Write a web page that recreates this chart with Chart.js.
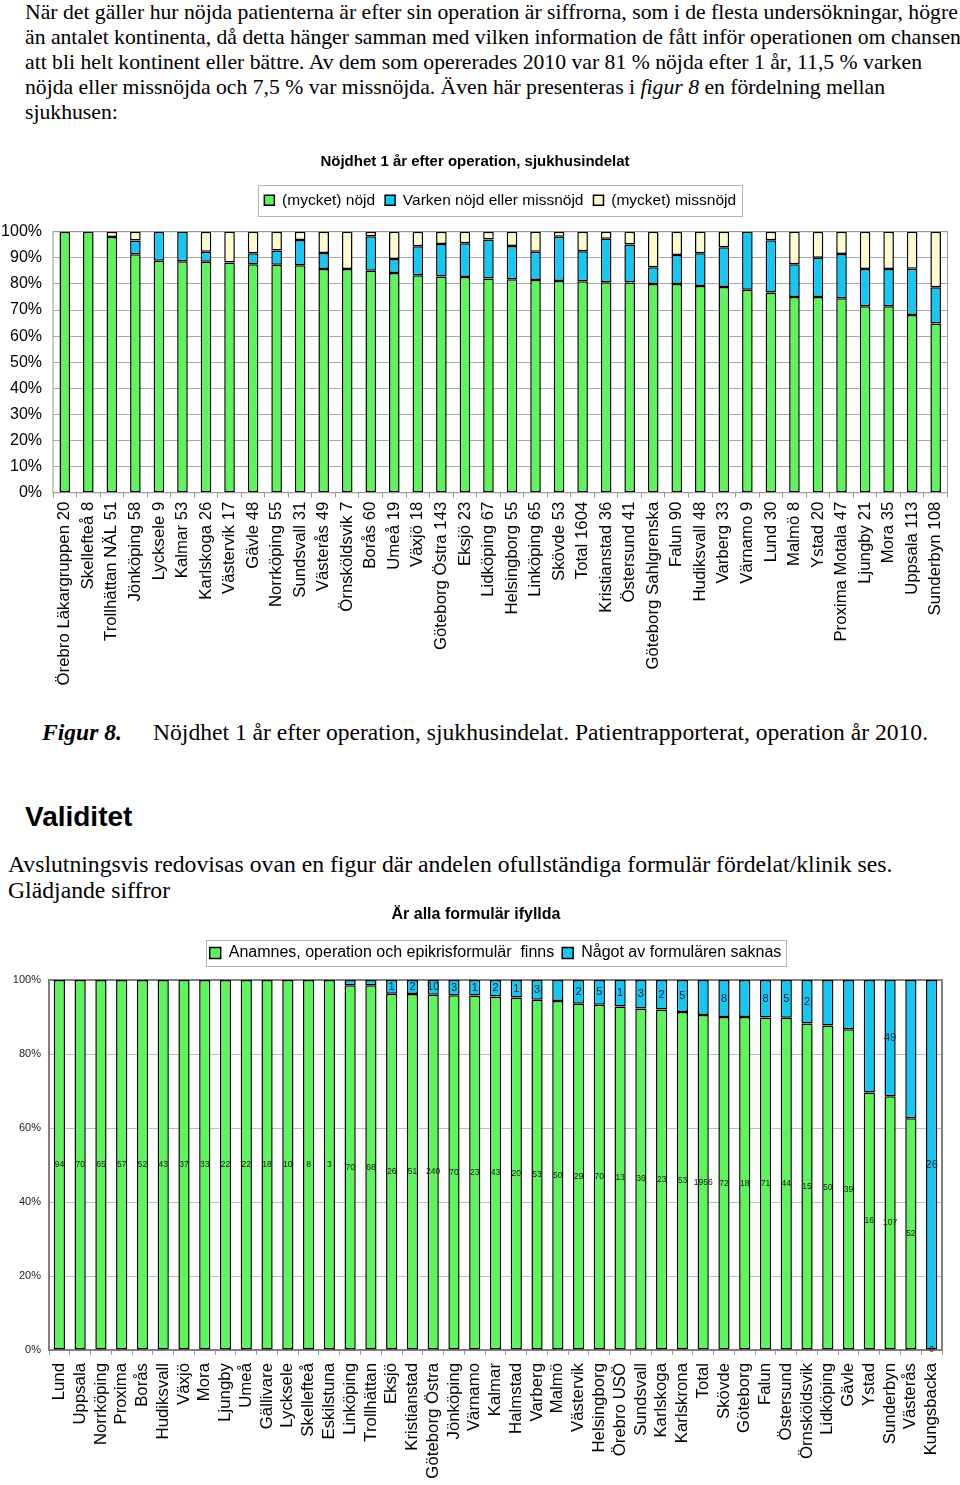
<!DOCTYPE html>
<html lang="sv">
<head>
<meta charset="utf-8">
<title>Nöjdhet 1 år efter operation / Validitet</title>
<script src="https://cdn.jsdelivr.net/npm/chart.js@4.4.1/dist/chart.umd.min.js"></script>
<style>
  html, body { margin: 0; padding: 0; background: #fff; }
  body { width: 960px; height: 1485px; position: relative; overflow: hidden; color: #000; }
  .serif { font-family: 'Liberation Serif', 'Times New Roman', serif; }
  .txt { position: absolute; white-space: nowrap; }
  #intro { left: 25px; top: 0; font-size: 21.7px; line-height: 25px; }
  #fig-no { left: 42px; top: 720px; font-size: 23.6px; line-height: 25px; font-weight: bold; font-style: italic; }
  #fig-text { left: 153px; top: 720px; font-size: 23.6px; line-height: 25px; }
  #validitet { left: 25px; top: 801px; font: bold 28px/32px 'Liberation Sans', Arial, sans-serif; }
  #outro { left: 8px; top: 851px; font-size: 23.7px; line-height: 26px; }
  .chart-box { position: absolute; left: 0; width: 960px; }
  #box-nojd { top: 140px; height: 560px; }
  #box-form { top: 895px; height: 590px; }
</style>
</head>
<body>
<div id="intro" class="txt serif">När det gäller hur nöjda patienterna är efter sin operation är siffrorna, som i de flesta undersökningar, högre<br>än antalet kontinenta, då detta hänger samman med vilken information de fått inför operationen om chansen<br>att bli helt kontinent eller bättre. Av dem som opererades 2010 var 81 % nöjda efter 1 år, 11,5 % varken<br>nöjda eller missnöjda och 7,5 % var missnöjda. Även här presenteras i <i>figur 8</i> en fördelning mellan<br>sjukhusen:</div>

<div class="chart-box" id="box-nojd"><canvas id="nojd"></canvas></div>

<div id="fig-no" class="txt serif">Figur 8.</div>
<div id="fig-text" class="txt serif">Nöjdhet 1 år efter operation, sjukhusindelat. Patientrapporterat, operation år 2010.</div>
<div id="validitet" class="txt">Validitet</div>
<div id="outro" class="txt serif">Avslutningsvis redovisas ovan en figur där andelen ofullständiga formulär fördelat/klinik ses.<br>Glädjande siffror</div>

<div class="chart-box" id="box-form"><canvas id="form"></canvas></div>

<script>
// --- Figur 8: nöjdhet 1 år efter operation (andel i %) ---
const hospitals = ['Örebro Läkargruppen 20', 'Skellefteå 8', 'Trollhättan NÄL 51', 'Jönköping 58', 'Lycksele 9',
  'Kalmar 53', 'Karlskoga 26', 'Västervik 17', 'Gävle 48', 'Norrköping 55', 'Sundsvall 31', 'Västerås 49',
  'Örnsköldsvik 7', 'Borås 60', 'Umeå 19', 'Växjö 18', 'Göteborg Östra 143', 'Eksjö 23', 'Lidköping 67',
  'Helsingborg 55', 'Linköping 65', 'Skövde 53', 'Total 1604', 'Kristianstad 36', 'Östersund 41',
  'Göteborg Sahlgrenska', 'Falun 90', 'Hudiksvall 48', 'Varberg 33', 'Värnamo 9', 'Lund 30', 'Malmö 8',
  'Ystad 20', 'Proxima Motala 47', 'Ljungby 21', 'Mora 35', 'Uppsala 113', 'Sunderbyn 108'];
const satisfied = [100, 100, 98.0, 91.4, 88.9, 88.7, 88.5, 88.2, 87.5, 87.3, 87.1, 85.7, 85.7, 85.0, 84.2, 83.3,
  82.8, 82.6, 82.1, 81.8, 81.5, 81.1, 81.0, 80.6, 80.5, 80.0, 80.0, 79.2, 78.8, 77.8, 76.7, 75.0, 75.0, 74.5,
  71.4, 71.4, 68.1, 64.8];
const neutral = [0, 0, 0, 5.2, 11.1, 11.3, 3.8, 0, 4.2, 5.5, 9.7, 6.1, 0, 13.3, 5.3, 11.1, 12.5, 13.0, 14.9, 12.7,
  10.8, 17.0, 11.5, 16.7, 14.6, 6.4, 11.1, 12.5, 15.2, 22.2, 20.0, 12.5, 15.0, 17.0, 14.3, 14.3, 17.7, 13.9];
const dissatisfied = [0, 0, 2.0, 3.4, 0, 0, 7.7, 11.8, 8.3, 7.2, 3.2, 8.2, 14.3, 1.7, 10.5, 5.6, 4.7, 4.4, 3.0, 5.5,
  7.7, 1.9, 7.5, 2.7, 4.9, 13.6, 8.9, 8.3, 6.0, 0, 3.3, 12.5, 10.0, 8.5, 14.3, 14.3, 14.2, 21.3];
const pctTicks = ['0%', '10%', '20%', '30%', '40%', '50%', '60%', '70%', '80%', '90%', '100%'];

// --- Är alla formulär ifyllda (antal formulär) ---
const clinics = ['Lund', 'Uppsala', 'Norrköping', 'Proxima', 'Borås', 'Hudiksvall', 'Växjö', 'Mora', 'Ljungby',
  'Umeå', 'Gällivare', 'Lycksele', 'Skellefteå', 'Eskilstuna', 'Linköping', 'Trollhättan', 'Eksjö',
  'Kristianstad', 'Göteborg Östra', 'Jönköping', 'Värnamo', 'Kalmar', 'Halmstad', 'Varberg', 'Malmö',
  'Västervik', 'Helsingborg', 'Örebro USÖ', 'Sundsvall', 'Karlskoga', 'Karlskrona', 'Total', 'Skövde',
  'Göteborg', 'Falun', 'Östersund', 'Örnsköldsvik', 'Lidköping', 'Gävle', 'Ystad', 'Sunderbyn', 'Västerås',
  'Kungsbacka'];
const formsComplete = [94, 70, 65, 57, 52, 43, 37, 33, 22, 22, 18, 10, 8, 3, 70, 68, 26, 51, 240, 70, 23, 43, 20,
  53, 50, 29, 70, 13, 36, 23, 53, 1956, 72, 18, 71, 44, 15, 50, 39, 16, 107, 52, 0];
const formsMissing = [0, 0, 0, 0, 0, 0, 0, 0, 0, 0, 0, 0, 0, 0, 1, 1, 1, 2, 10, 3, 1, 2, 1, 3, 3, 2, 5, 1, 3, 2, 5,
  205, 8, 2, 8, 5, 2, 7, 6, 7, 49, 31, 26];
// labels for the "saknas" segment that are not printed in the original
const unlabelledMissing = ['Linköping', 'Trollhättan', 'Malmö', 'Total', 'Göteborg', 'Lidköping', 'Gävle', 'Ystad', 'Västerås'];
const formTicks = ['0%', '20%', '40%', '60%', '80%', '100%'];

const SANS = "'Liberation Sans', Arial, sans-serif";
const NARROW = "'Liberation Sans Narrow', 'Liberation Sans', Arial, sans-serif";
const GREEN = '#5cf55c';
const BLUE = '#14c8f4';
const PALE = '#fffbcf';

Chart.defaults.font.family = SANS;
Chart.defaults.color = '#000';
Chart.defaults.animation = false;

// gray frame around the plot area, like the Excel plot area border
const plotFrame = {
  id: 'plotFrame',
  beforeDatasetsDraw(chart, args, opts) {
    const { ctx, chartArea: a } = chart;
    ctx.save();
    ctx.strokeStyle = opts.color;
    ctx.lineWidth = opts.width;
    ctx.strokeRect(a.left, a.top, a.right - a.left, a.bottom - a.top);
    ctx.restore();
  }
};

// thin border round the legend items
const legendFrame = {
  id: 'legendFrame',
  afterDraw(chart, args, opts) {
    const boxes = chart.legend && chart.legend.legendHitBoxes;
    if (!boxes || !boxes.length) return;
    const left = Math.min(...boxes.map((b) => b.left)) - opts.padX;
    const right = Math.max(...boxes.map((b) => b.left + b.width)) + opts.padX;
    const top = boxes[0].top - opts.padY;
    const bottom = boxes[0].top + boxes[0].height + opts.padY;
    const { ctx } = chart;
    ctx.save();
    ctx.strokeStyle = '#b4b4b4';
    ctx.lineWidth = 1;
    ctx.strokeRect(Math.round(left) + 0.5, Math.round(top) + 0.5, Math.round(right - left), Math.round(bottom - top));
    ctx.restore();
  }
};

// count printed in the middle of each bar segment
const countLabels = {
  id: 'countLabels',
  afterDatasetsDraw(chart) {
    const { ctx } = chart;
    chart.data.datasets.forEach((ds, di) => {
      if (!ds.counts) return;
      const meta = chart.getDatasetMeta(di);
      ctx.save();
      ctx.font = ds.countFont;
      ctx.fillStyle = ds.countColor;
      ctx.textAlign = 'center';
      ctx.textBaseline = 'middle';
      meta.data.forEach((bar, i) => {
        const n = ds.counts[i];
        if (n === null) return;
        ctx.fillText(String(n), bar.x, (bar.y + bar.base) / 2);
      });
      ctx.restore();
    });
  }
};

function barSet(label, data, color, pct) {
  return {
    label,
    data,
    backgroundColor: color,
    borderColor: '#000',
    borderWidth: 1.5,
    borderSkipped: false,
    barPercentage: pct,
    categoryPercentage: 1,
  };
}

new Chart(document.getElementById('nojd'), {
  type: 'bar',
  data: {
    labels: hospitals,
    datasets: [
      barSet('(mycket) nöjd', satisfied, GREEN, 0.45),
      barSet('Varken nöjd eller missnöjd', neutral, BLUE, 0.45),
      barSet('(mycket) missnöjd', dissatisfied, PALE, 0.45),
    ],
  },
  options: {
    responsive: true,
    maintainAspectRatio: false,
    layout: { padding: { top: 0, right: 10, bottom: 0, left: 0 } },
    plugins: {
      title: {
        display: true,
        text: 'Nöjdhet 1 år efter operation, sjukhusindelat',
        font: { size: 15, weight: 'bold' },
        color: '#000',
        padding: { top: 13, bottom: 11.5 },
      },
      legend: {
        fullSize: false,
        labels: { font: { size: 15.5 }, boxWidth: 10, boxHeight: 10, padding: 10, color: '#000' },
      },
      subtitle: { display: true, text: '', weight: 500, font: { size: 1, lineHeight: 1 }, padding: { top: 12.7, bottom: 0 } },
      tooltip: { enabled: false },
      plotFrame: { color: '#9a9a9a', width: 1 },
      legendFrame: { padX: 6, padY: 7.5 },
    },
    scales: {
      x: {
        stacked: true,
        grid: { display: true, drawOnChartArea: false, tickLength: 5, color: '#9a9a9a', offset: true },
        border: { display: false },
        ticks: { autoSkip: false, minRotation: 90, maxRotation: 90, font: { size: 16.8 }, padding: 4 },
        afterFit(scale) { scale.height = 207.3; },
      },
      y: {
        stacked: true,
        min: 0,
        max: 100,
        grid: { color: '#a6a6a6', drawTicks: false },
        border: { display: false },
        ticks: { stepSize: 10, font: { size: 16 }, padding: 11, callback: (v) => pctTicks[v / 10] },
        afterFit(scale) { scale.width = 53; },
      },
    },
  },
  plugins: [plotFrame, legendFrame],
});

const completePct = formsComplete.map((c, i) => c / (c + formsMissing[i]) * 100);
const missingPct = formsMissing.map((m, i) => m / (formsComplete[i] + m) * 100);

const completeSet = barSet('Anamnes, operation och epikrisformulär  finns', completePct, GREEN, 0.54);
completeSet.counts = formsComplete;
completeSet.countFont = '8.5px ' + NARROW;
completeSet.countColor = '#1a1a1a';

const missingSet = barSet('Något av formulären saknas', missingPct, BLUE, 0.54);
missingSet.counts = formsMissing.map((m, i) => (m === 0 || unlabelledMissing.includes(clinics[i]) ? null : m));
missingSet.countFont = '11px ' + SANS;
missingSet.countColor = '#10203c';

new Chart(document.getElementById('form'), {
  type: 'bar',
  data: { labels: clinics, datasets: [completeSet, missingSet] },
  options: {
    responsive: true,
    maintainAspectRatio: false,
    layout: { padding: { top: 0, right: 8, bottom: 0, left: 0 } },
    plugins: {
      title: {
        display: true,
        text: 'Är alla formulär ifyllda',
        font: { family: NARROW, size: 16, weight: 'bold' },
        color: '#000',
        padding: { top: 10.4, bottom: 12.4 },
      },
      legend: {
        fullSize: false,
        labels: { font: { family: NARROW, size: 16 }, boxWidth: 11, boxHeight: 11, padding: 8, color: '#000' },
      },
      subtitle: { display: true, text: '', weight: 500, font: { size: 1, lineHeight: 1 }, padding: { top: 8, bottom: 0 } },
      tooltip: { enabled: false },
      plotFrame: { color: '#808080', width: 2 },
      legendFrame: { padX: 4, padY: 5 },
    },
    scales: {
      x: {
        stacked: true,
        grid: { display: true, drawOnChartArea: false, tickLength: 5, color: '#9a9a9a', offset: true },
        border: { display: false },
        ticks: { autoSkip: false, minRotation: 90, maxRotation: 90, font: { size: 16.8 }, padding: 8 },
        afterFit(scale) { scale.height = 135; },
      },
      y: {
        stacked: true,
        min: 0,
        max: 100,
        grid: { color: '#bdbdbd', drawTicks: false },
        border: { display: false },
        ticks: { stepSize: 20, font: { size: 11 }, color: '#222', padding: 8, callback: (v) => formTicks[v / 20] },
        afterFit(scale) { scale.width = 49; },
      },
    },
  },
  plugins: [plotFrame, legendFrame, countLabels],
});
</script>
</body>
</html>
